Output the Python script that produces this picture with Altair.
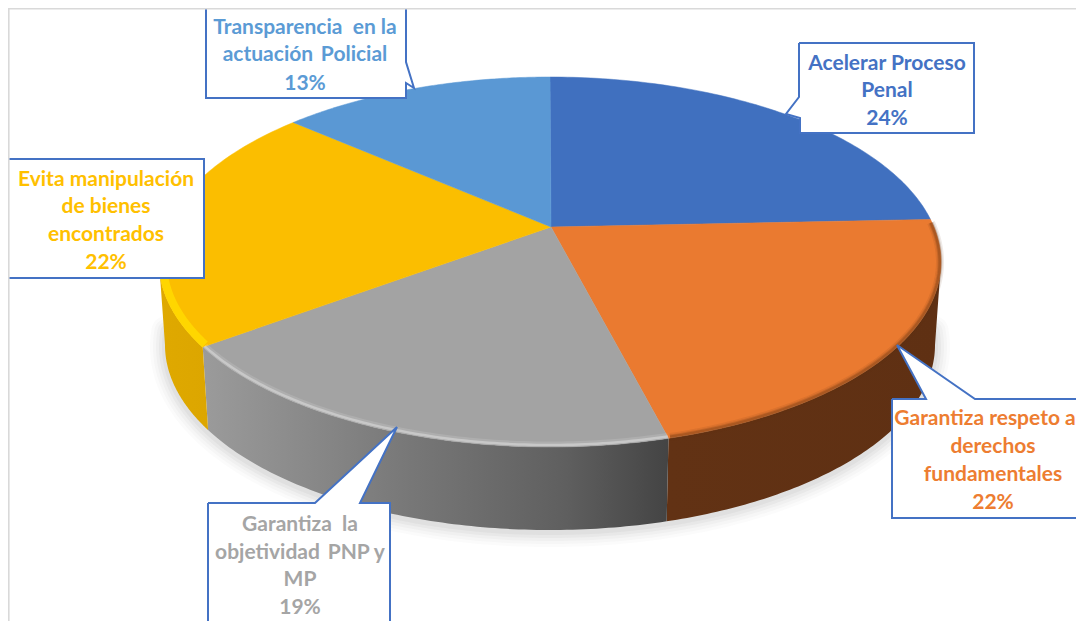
import math
import altair as alt
import pandas as pd

# ---- values ----
categories = ["Acelerar Proceso Penal", "Garantiza respeto a derechos fundamentales",
              "Garantiza la objetividad PNP y MP", "Evita manipulación de bienes encontrados",
              "Transparencia en la actuación Policial"]
percent_labels = ["24%", "22%", "19%", "22%", "13%"]
# share of the rim each slice occupies as drawn (the 3D perspective differs from the labels)
visible_share = [21.3, 23.8, 22.3, 21.2, 11.4]

top_colors = ["#4070bf", "#ea7a30", "#a3a3a3", "#fbbe00", "#5a98d4"]
text_colors = ["#4472c4", "#ed7d31", "#a5a5a5", "#ffc000", "#5b9bd5"]
label_lines = [
    ["Acelerar Proceso", "Penal"],
    ["Garantiza respeto a", "derechos", "fundamentales"],
    ["Garantiza\u00a0 la", "objetividad \u2009PNP y", "MP"],
    ["Evita manipulación", "de bienes", "encontrados"],
    ["Transparencia\u00a0 en la", "actuación \u2009Policial"],
]

# ---- layout (page pixels) ----
W, H = 1076, 621   # the page can show the SVG 1:1 only up to x = 1076
APEX = (551, 227)
TOP = dict(cx=550, cy=262, a=391, b=185)
BOT = dict(cx=550, cy=345, a=385, b=185)
LABEL_X = [[887] * 3, [985, 993, 993, 993], [300] * 4, [106] * 4, [305] * 3]
LABEL_Y = [[64, 91, 119], [419, 447, 475, 503], [525, 553, 580, 608], [180, 207, 235, 263], [28, 55, 84]]
BOXES = [
    [(799, 43), (974, 43), (974, 133), (800, 133), (800, 118), (786, 114), (799, 97)],
    [(892, 399), (926, 399), (897, 345), (975, 399), (1100, 399), (1100, 518), (892, 518)],
    [(208, 503), (315, 503), (397, 427), (360, 503), (390, 503), (390, 640), (208, 640)],
    [(0, 159), (204, 159), (204, 278), (0, 278)],
    [(206, 0), (406, 0), (406, 62), (414, 88), (406, 83), (406, 98), (206, 98)],
]
BOX_STROKE = "#4472c4"

xs = alt.X("x:Q", scale=alt.Scale(domain=[8, W], nice=False, zero=False), axis=None)
ys = alt.Y("y:Q", scale=alt.Scale(domain=[H, 8], nice=False, zero=False), axis=None)


def rim(e, t, dy=0.0, da=0.0, db=0.0):
    r = math.radians(t)
    return (e["cx"] + (e["a"] + da) * math.sin(r), e["cy"] + dy - (e["b"] + db) * math.cos(r))


def arc(e, t1, t2, n=90, **kw):
    return [rim(e, t1 + (t2 - t1) * i / n, **kw) for i in range(n + 1)]


def shape(points, **mark):
    df = pd.DataFrame({"x": [p[0] for p in points], "y": [p[1] for p in points], "i": range(len(points))})
    return alt.Chart(df).mark_line(clip=True, interpolate="linear", **mark).encode(
        x=xs, y=ys, order=alt.Order("i:Q"))


def grad(*stops):
    return alt.Gradient(gradient="linear", x1=0, y1=0, x2=1, y2=0,
                        stops=[alt.GradientStop(offset=o, color=c) for o, c in stops])


cum = [0.0]
for s in visible_share:
    cum.append(cum[-1] + s * 360.0 / sum(visible_share))
T = [(cum[i], cum[i + 1]) for i in range(5)]

layers = []

# soft shadow under the disc
for width, op in [(30, 0.025), (24, 0.03), (18, 0.035), (12, 0.05), (6, 0.06)]:
    layers.append(shape(arc(BOT, 85, 275, n=140, dy=2), stroke="#606060", strokeWidth=width,
                        strokeOpacity=op, strokeCap="round"))

# side walls
def wall(t1, t2, fill):
    pts = arc(TOP, t1, t2) + arc(BOT, t2, t1)
    return shape(pts, fill=fill, strokeWidth=0)

layers.append(wall(90, T[1][1], grad((0, "#623214"), (1, "#5f3013"))))
layers.append(wall(T[2][0], T[2][1], grad((0, "#9b9b9b"), (0.45, "#777777"), (0.78, "#5f5f5f"), (1, "#444444"))))
layers.append(wall(T[3][0], 270, grad((0, "#dfa900"), (1, "#dca600"))))

# top face slices
for (t1, t2), col in zip(T, top_colors):
    pts = [APEX] + arc(TOP, t1, t2) + [APEX]
    layers.append(shape(pts, fill=col, stroke=col, strokeWidth=0.5))

# bevels along the rim
for width, op in [(8, 0.10), (5, 0.18), (3, 0.25)]:
    layers.append(shape(arc(TOP, T[1][0] + 1, T[1][1] - 0.3, da=-1, db=-1), stroke="#5e3011", strokeWidth=width, strokeOpacity=op))
layers.append(shape(arc(TOP, T[2][0], T[2][1], da=-3, db=-3), stroke="#ffffff", strokeWidth=5, strokeOpacity=0.12))
layers.append(shape(arc(TOP, T[2][0], T[2][1], da=-2, db=-2), stroke="#ffffff", strokeWidth=2.5, strokeOpacity=0.32))
layers.append(shape(arc(TOP, T[3][0] + 0.4, 277, da=-4, db=-3), stroke="#ffd800", strokeWidth=8, strokeOpacity=0.9))

# callouts
for box in BOXES:
    layers.append(shape(box + [box[0]], fill="#ffffff", stroke=BOX_STROKE, strokeWidth=2, strokeJoin="miter"))

# frame
layers.append(shape([(8.6, H + 10), (8.6, 8.6), (W + 10, 8.6)], stroke="#d9d9d9", strokeWidth=2))

# text
rows = []
for k, lines in enumerate(label_lines):
    all_lines = lines + [percent_labels[k]]
    for line, x, y in zip(all_lines, LABEL_X[k], LABEL_Y[k]):
        rows.append({"x": x, "y": y, "t": line, "c": categories[k]})
text = alt.Chart(pd.DataFrame(rows)).mark_text(
    font="Lato", fontWeight="bold", fontSize=21, align="center", baseline="middle", clip=True
).encode(
    x=xs, y=ys, text="t:N",
    color=alt.Color("c:N", scale=alt.Scale(domain=categories, range=text_colors), legend=None),
)
layers.append(text)

chart = alt.layer(*layers).properties(
    width=W - 8, height=H - 8, background="#ffffff", padding=0,
    autosize=alt.AutoSizeParams(type="none"),
).configure_view(stroke=None)

chart.save("out.html", embed_options={"renderer": "svg", "actions": False})
